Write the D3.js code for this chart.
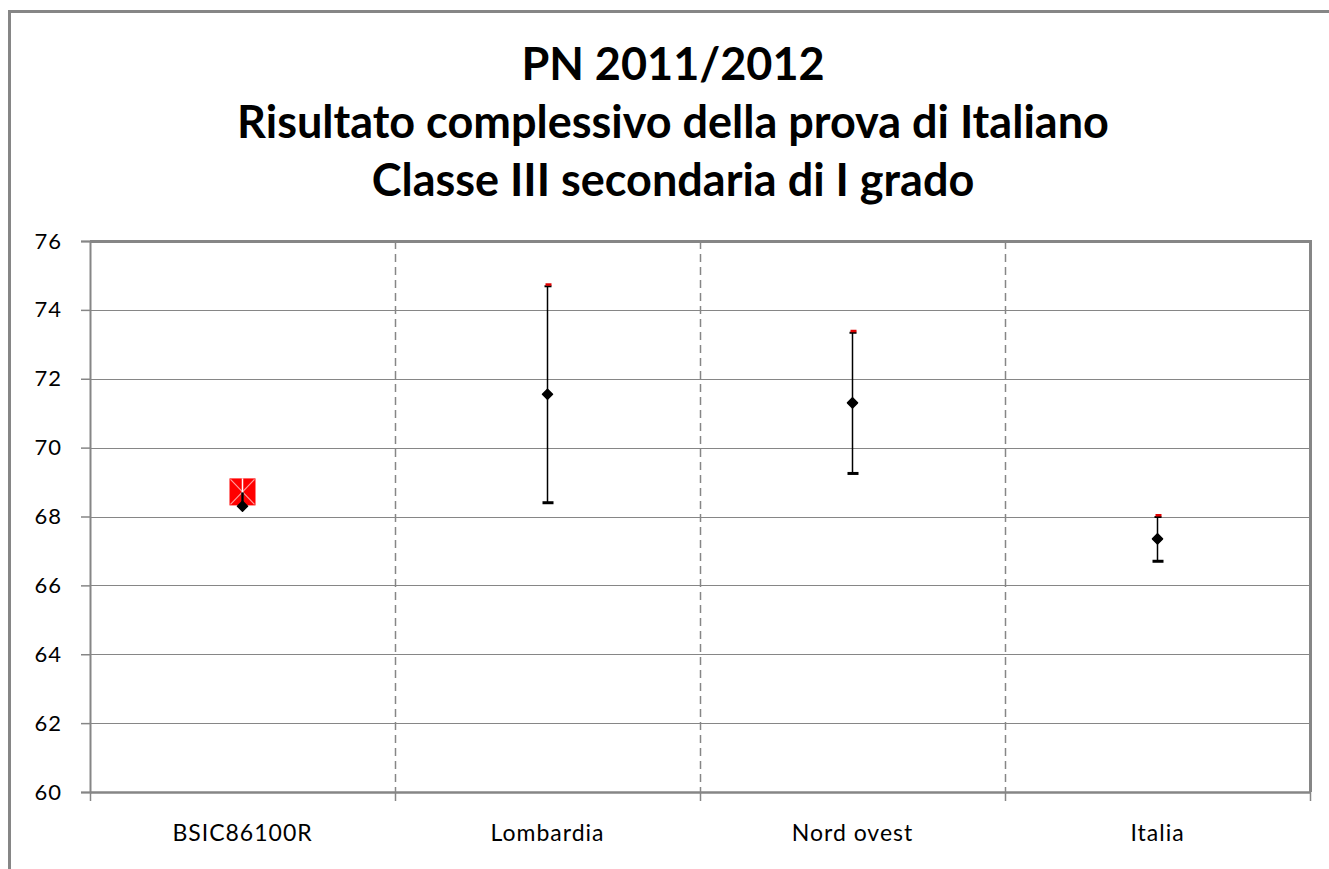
<!DOCTYPE html>
<html>
<head>
<meta charset="utf-8">
<script src="https://cdn.jsdelivr.net/npm/d3@7"></script>
<style>
  body { margin: 0; background: #fff; }
  svg { display: block; }
</style>
</head>
<body>
<div id="chart"></div>
<script>
// chart values
var categories = ["BSIC86100R", "Lombardia", "Nord ovest", "Italia"];
var medie = [68.3, 71.55, 71.3, 67.35];
var limInf = [68.3, 68.4, 69.25, 66.7];
var limSup = [68.7, 74.7, 73.35, 68.0];
var yTicks = [60, 62, 64, 66, 68, 70, 72, 74, 76];
var titolo = ["PN 2011/2012", "Risultato complessivo della prova di Italiano", "Classe III secondaria di I grado"];

var W = 1329, H = 869;
var margin = {top: 241, right: 19, bottom: 77, left: 90},
    width = W - margin.left - margin.right,
    height = H - margin.top - margin.bottom;

var grey = "#868686";
var font = "Lato, 'Open Sans', sans-serif";

var root = d3.select("#chart").append("svg")
    .attr("width", W)
    .attr("height", H);

// outer frame (only top and left visible)
root.append("path")
    .attr("d", "M9.5," + H + "V11.5H" + W)
    .attr("fill", "none")
    .attr("stroke", grey)
    .attr("stroke-width", 3);

// title
root.append("g").selectAll("text")
  .data(titolo)
  .enter()
  .append("text")
    .attr("x", 673)
    .attr("y", function(d, i) { return 80 + i * 58; })
    .attr("text-anchor", "middle")
    .style("font-family", font)
    .style("font-weight", "bold")
    .style("font-size", "45px")
    .attr("fill", "#000")
    .text(function(d) { return d; });

var svg = root.append("g")
    .attr("transform", "translate(" + margin.left + "," + margin.top + ")");

var x = d3.scaleBand()
    .domain(categories)
    .range([0, width]);

var y = d3.scaleLinear()
    .domain([60, 76])
    .range([height, 0]);

// gridlines
svg.selectAll("grid")
  .data(yTicks.slice(1, -1))
  .enter()
  .append("line")
    .attr("x1", 0)
    .attr("x2", width)
    .attr("y1", function(d) { return Math.round(y(d)) + 0.5; })
    .attr("y2", function(d) { return Math.round(y(d)) + 0.5; })
    .attr("stroke", grey)
    .attr("stroke-width", 1);

// dashed separators between categories
svg.selectAll("sep")
  .data(categories.slice(1))
  .enter()
  .append("line")
    .attr("x1", function(d) { return Math.round(x(d)) + 0.5; })
    .attr("x2", function(d) { return Math.round(x(d)) + 0.5; })
    .attr("y1", 0)
    .attr("y2", height)
    .attr("stroke", grey)
    .attr("stroke-width", 1.5)
    .attr("stroke-dasharray", "8,5");

// top and right border
svg.append("path")
    .attr("d", "M0,0.5H" + (width + 0.5) + "V" + height)
    .attr("fill", "none")
    .attr("stroke", grey)
    .attr("stroke-width", 3);

// Y axis
var yAxis = svg.append("g")
    .call(d3.axisLeft(y).tickValues(yTicks).tickSize(9).tickPadding(19).tickFormat(d3.format("d")));
yAxis.select(".domain").attr("stroke", grey).attr("stroke-width", 2);
yAxis.selectAll(".tick line").attr("stroke", grey).attr("stroke-width", 1.5);
yAxis.selectAll(".tick text")
    .style("font-family", font)
    .style("font-size", "22px")
    .style("letter-spacing", "1px")
    .attr("fill", "#000");

// X axis
var xAxis = svg.append("g")
    .attr("transform", "translate(0," + height + ")")
    .call(d3.axisBottom(x).tickSize(0).tickPadding(33));
xAxis.select(".domain").attr("stroke", grey).attr("stroke-width", 2.5);
xAxis.selectAll(".tick text")
    .style("font-family", font)
    .style("font-size", "23px")
    .style("letter-spacing", "1px")
    .attr("fill", "#000");

// x tick marks at category boundaries
svg.selectAll("xtick")
  .data(categories.concat(["end"]))
  .enter()
  .append("line")
    .attr("x1", function(d, i) { return Math.round(i < categories.length ? x(d) : width) + 0.5; })
    .attr("x2", function(d, i) { return Math.round(i < categories.length ? x(d) : width) + 0.5; })
    .attr("y1", height)
    .attr("y2", height + 9)
    .attr("stroke", grey)
    .attr("stroke-width", 1.5);

var cx = function(d) { return x(d) + x.bandwidth() / 2; };

// error bar lines
svg.selectAll("bar")
  .data(categories)
  .enter()
  .append("line")
    .attr("x1", cx)
    .attr("x2", cx)
    .attr("y1", function(d, i) { return y(limInf[i]); })
    .attr("y2", function(d, i) { return y(limSup[i]); })
    .attr("stroke", "#000")
    .attr("stroke-width", 1.5);

// lower caps
svg.selectAll("low")
  .data(categories.slice(1))
  .enter()
  .append("rect")
    .attr("x", function(d) { return cx(d) - 5; })
    .attr("y", function(d) { return y(limInf[categories.indexOf(d)]) - 1.5; })
    .attr("width", 11)
    .attr("height", 3)
    .attr("fill", "#000");

// upper caps (red over black)
svg.selectAll("upb")
  .data(categories.slice(1))
  .enter()
  .append("rect")
    .attr("x", function(d) { return cx(d) - 3; })
    .attr("y", function(d) { return y(limSup[categories.indexOf(d)]) - 0.5; })
    .attr("width", 7)
    .attr("height", 2)
    .attr("fill", "#000");
svg.selectAll("upr")
  .data(categories.slice(1))
  .enter()
  .append("rect")
    .attr("x", function(d) { return cx(d) - 2; })
    .attr("y", function(d) { return y(limSup[categories.indexOf(d)]) - 2.5; })
    .attr("width", 6)
    .attr("height", 2.5)
    .attr("fill", "#e00000");

// school marker: red square with white cross
var s0 = categories[0];
var sx = cx(s0), sy = y(limSup[0]);
svg.append("rect")
    .attr("x", sx - 13)
    .attr("y", sy - 14)
    .attr("width", 26)
    .attr("height", 27)
    .attr("fill", "#ff0000");
svg.append("path")
    .attr("d", "M" + (sx - 12) + "," + (sy - 13) + "L" + (sx + 12) + "," + (sy + 12) +
               "M" + (sx + 12) + "," + (sy - 13) + "L" + (sx - 12) + "," + (sy + 12))
    .attr("stroke", "#ff9c9c")
    .attr("stroke-width", 1.2);
svg.append("line")
    .attr("x1", sx).attr("x2", sx)
    .attr("y1", sy - 14).attr("y2", sy + 13)
    .attr("stroke", "#fff")
    .attr("stroke-width", 1.5);
svg.append("line")
    .attr("x1", sx).attr("x2", sx)
    .attr("y1", sy).attr("y2", y(medie[0]))
    .attr("stroke", "#000")
    .attr("stroke-width", 2.5);

// mean points (diamonds)
svg.selectAll("mean")
  .data(categories)
  .enter()
  .append("path")
    .attr("transform", function(d, i) { return "translate(" + cx(d) + "," + y(medie[i]) + ")"; })
    .attr("d", d3.symbol().type(d3.symbolDiamond2).size(64))
    .attr("fill", "#000")
    .attr("stroke", "#000")
    .attr("stroke-width", 1.5)
    .attr("stroke-linejoin", "round");
</script>
</body>
</html>
